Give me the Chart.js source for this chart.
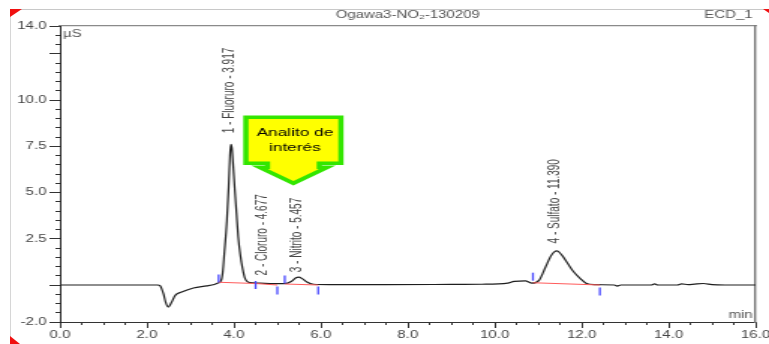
<!DOCTYPE html>
<html>
<head>
<meta charset="utf-8">
<script src="https://cdn.jsdelivr.net/npm/chart.js@4.4.1/dist/chart.umd.min.js"></script>
<style>
html, body { margin: 0; padding: 0; background: #fff; }
#wrap { position: relative; width: 769px; height: 344px; overflow: hidden; }
#frame { position: absolute; left: 10px; top: 9px; width: 770px; height: 340px; border-top: 1px solid #c8c8c8; border-left: 1px solid #d6d6d6; }
.corner { position: absolute; width: 0; height: 0; }
#tl { left: 10px; top: 9px; border-top: 8px solid #f01010; border-right: 12px solid transparent; }
#bl { left: 10px; top: 336px; border-bottom: 8px solid #f01010; border-right: 10px solid transparent; }
#tr { left: 763px; top: 9px; border-top: 4px solid #f01010; border-left: 6px solid transparent; }
#c { position: absolute; left: 0; top: 0; }
</style>
</head>
<body>
<div id="wrap">
  <div id="frame"></div>
  <div class="corner" id="tl"></div>
  <div class="corner" id="bl"></div>
  <div class="corner" id="tr"></div>
  <canvas id="c" width="513" height="344" style="width:769px;height:344px"></canvas>
</div>
<script>
// chromatogram trace (min, µS)
const timeMin = [0, 2.25, 2.3, 2.38, 2.43, 2.49, 2.57, 2.65, 2.8, 3.07,
  3.38, 3.55, 3.65, 3.7, 3.74, 3.78, 3.84, 3.88, 3.91, 3.93,
  3.955, 3.98, 4.02, 4.06, 4.1, 4.15, 4.2, 4.25, 4.3, 4.37,
  4.6, 4.91, 5.15, 5.33, 5.42, 5.49, 5.58, 5.68, 5.83, 6.2,
  7.5, 9.0, 9.7, 10.3, 10.45, 10.7, 10.86, 11.02, 11.17, 11.3,
  11.43, 11.55, 11.68, 11.82, 11.97, 12.1, 12.3, 12.75, 12.82, 12.9,
  13.6, 13.68, 13.75, 14.2, 14.3, 14.45, 14.6, 14.8, 15.0, 15.3, 16];
const signal = [0, 0, -0.03, -0.47, -0.92, -1.19, -0.92, -0.56, -0.38, -0.16,
  -0.05, 0.03, 0.12, 0.2, 0.6, 1.7, 3.5, 5.3, 7.0, 7.6,
  7.4, 6.6, 5.2, 3.9, 2.6, 1.6, 0.9, 0.4, 0.2, 0.13,
  0.1, 0.07, 0.07, 0.2, 0.38, 0.43, 0.33, 0.16, 0.04, 0.02,
  0.02, 0.03, 0.04, 0.1, 0.2, 0.22, 0.1, 0.25, 0.97, 1.6,
  1.84, 1.6, 1.16, 0.7, 0.35, 0.1, 0.02, 0.0, -0.06, 0.0,
  0.0, 0.06, 0.0, 0.0, 0.06, 0.02, 0.05, 0.08, 0.02, 0.0, 0.0];

// integration baselines (null = gap)
const baseTimes = [3.65, 4.5, 5.0, 5.08, 5.17, 5.94, 8.0, 10.88, 12.42];
const baseValues = [0.15, 0.08, 0.0, null, 0.05, 0.0, null, 0.12, 0.0];

// peak start / end markers
const markTimes = [3.65, 4.5, 5.0, 5.17, 5.94, 10.88, 12.42];
const markValues = [0.35, 0.0, -0.3, 0.3, -0.3, 0.45, -0.35];

// peak annotations
const peakNames = ['1 - Fluoruro - 3.917', '2 - Cloruro - 4.677', '3 - Nitrito - 5.457', '4 - Sulfato - 11.390'];
const peakTimes = [3.917, 4.677, 5.457, 11.39];
const peakLabelBase = [8.2, 0.52, 0.69, 2.25];

// axes
const xMajorTicks = [0, 2, 4, 6, 8, 10, 12, 14, 16];
const yMajorTicks = [-2, 0, 2.5, 5, 7.5, 10, 12.5, 14];
const yLabelled = [-2, 2.5, 5, 7.5, 10, 14];
const minorStep = 0.5;

const arrowTip = [5.37, 5.5];

const FONT = '"Liberation Sans", Arial, sans-serif';
Chart.defaults.font.family = FONT;
Chart.defaults.font.size = 10;
Chart.defaults.color = '#444';

function minorTicks(min, max) {
    const out = [];
    for (let v = min; v <= max + 1e-9; v += minorStep) out.push({ value: +v.toFixed(2) });
    return out;
}

const textPlugin = {
    id: 'texts',
    afterDatasetsDraw(chart) {
        const { ctx, chartArea: a, scales: { x, y } } = chart;
        ctx.save();
        ctx.fillStyle = '#555';
        ctx.font = '10px ' + FONT;
        ctx.textBaseline = 'middle';
        ctx.textAlign = 'center';
        ctx.fillText('Ogawa3-NO\u2082-130209', (a.left + a.right) / 2, 15);
        ctx.textAlign = 'right';
        ctx.fillText('ECD_1', a.right - 2, 15);
        ctx.fillText('min', a.right - 2, a.bottom - 7);
        ctx.textAlign = 'left';
        ctx.fillText('µS', a.left + 2, a.top + 8);

        // rotated peak labels
        ctx.fillStyle = '#444';
        peakNames.forEach((name, i) => {
            ctx.save();
            ctx.translate(x.getPixelForValue(peakTimes[i]), y.getPixelForValue(peakLabelBase[i]));
            ctx.rotate(-Math.PI / 2);
            ctx.fillText(name, 0, 0);
            ctx.restore();
        });

        // "Analito de interés" callout arrow
        const tx = x.getPixelForValue(arrowTip[0]);
        const ty = y.getPixelForValue(arrowTip[1]);
        ctx.beginPath();
        ctx.moveTo(tx - 31.7, ty - 66);
        ctx.lineTo(tx + 31.7, ty - 66);
        ctx.lineTo(tx + 31.7, ty - 20);
        ctx.lineTo(tx + 17.3, ty - 20);
        ctx.lineTo(tx + 17.3, ty - 16);
        ctx.lineTo(tx + 22.7, ty - 16);
        ctx.lineTo(tx, ty);
        ctx.lineTo(tx - 22.7, ty - 16);
        ctx.lineTo(tx - 17.3, ty - 16);
        ctx.lineTo(tx - 17.3, ty - 20);
        ctx.lineTo(tx - 31.7, ty - 20);
        ctx.closePath();
        ctx.fillStyle = '#ffff00';
        ctx.fill();
        ctx.lineWidth = 3.5;
        ctx.strokeStyle = '#33e600';
        ctx.stroke();
        ctx.fillStyle = '#000';
        ctx.font = '11.5px ' + FONT;
        ctx.textAlign = 'center';
        ctx.fillText('Analito de', tx + 1, ty - 50);
        ctx.fillText('interés', tx + 1, ty - 35);
        ctx.restore();
    }
};

const traceData = timeMin.map((t, i) => ({ x: t, y: signal[i] }));
const baseData = baseTimes.map((t, i) => ({ x: t, y: baseValues[i] }));
const markData = markTimes.map((t, i) => ({ x: t, y: markValues[i] }));

new Chart(document.getElementById('c'), {
    type: 'line',
    data: {
        datasets: [
            { data: markData, showLine: false, pointStyle: 'line', pointRotation: 90, pointRadius: 4,
              pointBorderColor: '#4646ff', pointBorderWidth: 1.3, order: 1 },
            { data: baseData, borderColor: '#ff5c5c', borderWidth: 1.1, pointRadius: 0, spanGaps: false, order: 2 },
            { data: traceData, borderColor: '#1e1e1e', borderWidth: 1.2, pointRadius: 0,
              cubicInterpolationMode: 'monotone', order: 3 }
        ]
    },
    options: {
        responsive: false,
        devicePixelRatio: 1,
        animation: false,
        layout: { padding: { top: 26, right: 9, bottom: 0, left: 0 } },
        plugins: { legend: { display: false }, tooltip: { enabled: false } },
        scales: {
            xMinor: {
                type: 'linear', position: 'bottom', min: 0, max: 16, weight: 0,
                ticks: { display: false },
                grid: { drawOnChartArea: false, tickLength: 3, tickColor: '#333' },
                border: { display: false },
                afterBuildTicks: s => { s.ticks = minorTicks(0, 16); },
                afterFit: s => { s.height = 0; s.paddingLeft = 0; s.paddingRight = 0; }
            },
            x: {
                type: 'linear', position: 'bottom', min: 0, max: 16, weight: 1,
                ticks: { autoSkip: false, maxRotation: 0, padding: 1, color: '#444',
                         callback: v => v.toFixed(1) },
                grid: { drawOnChartArea: false, tickLength: 6, tickColor: '#333' },
                border: { color: '#333', width: 1 },
                afterBuildTicks: s => { s.ticks = xMajorTicks.map(v => ({ value: v })); },
                afterFit: s => { s.height = 22; s.paddingLeft = 0; s.paddingRight = 0; }
            },
            xTop: {
                type: 'linear', position: 'top', min: 0, max: 16,
                ticks: { display: false },
                grid: { display: false },
                border: { color: '#8a8a8a', width: 1.2 },
                afterFit: s => { s.height = 0; }
            },
            yMinor: {
                type: 'linear', position: 'left', min: -2, max: 14, weight: 0,
                ticks: { display: false },
                grid: { drawOnChartArea: false, tickLength: 3, tickColor: '#333' },
                border: { display: false },
                afterBuildTicks: s => { s.ticks = minorTicks(-2, 14); },
                afterFit: s => { s.width = 0; }
            },
            y: {
                type: 'linear', position: 'left', min: -2, max: 14, weight: 1,
                ticks: { autoSkip: false, padding: 2, color: '#444',
                         callback: v => yLabelled.includes(v) ? v.toFixed(1) : '' },
                grid: { drawOnChartArea: false, tickLength: 7, tickColor: '#333' },
                border: { color: '#222', width: 1 },
                afterBuildTicks: s => { s.ticks = yMajorTicks.map(v => ({ value: v })); },
                afterFit: s => { s.width = 40; }
            },
            yRight: {
                type: 'linear', position: 'right', min: -2, max: 14,
                ticks: { display: false },
                grid: { display: false },
                border: { color: '#7a7a7a', width: 1.4 },
                afterFit: s => { s.width = 0; }
            }
        }
    },
    plugins: [textPlugin]
});
</script>
</body>
</html>
